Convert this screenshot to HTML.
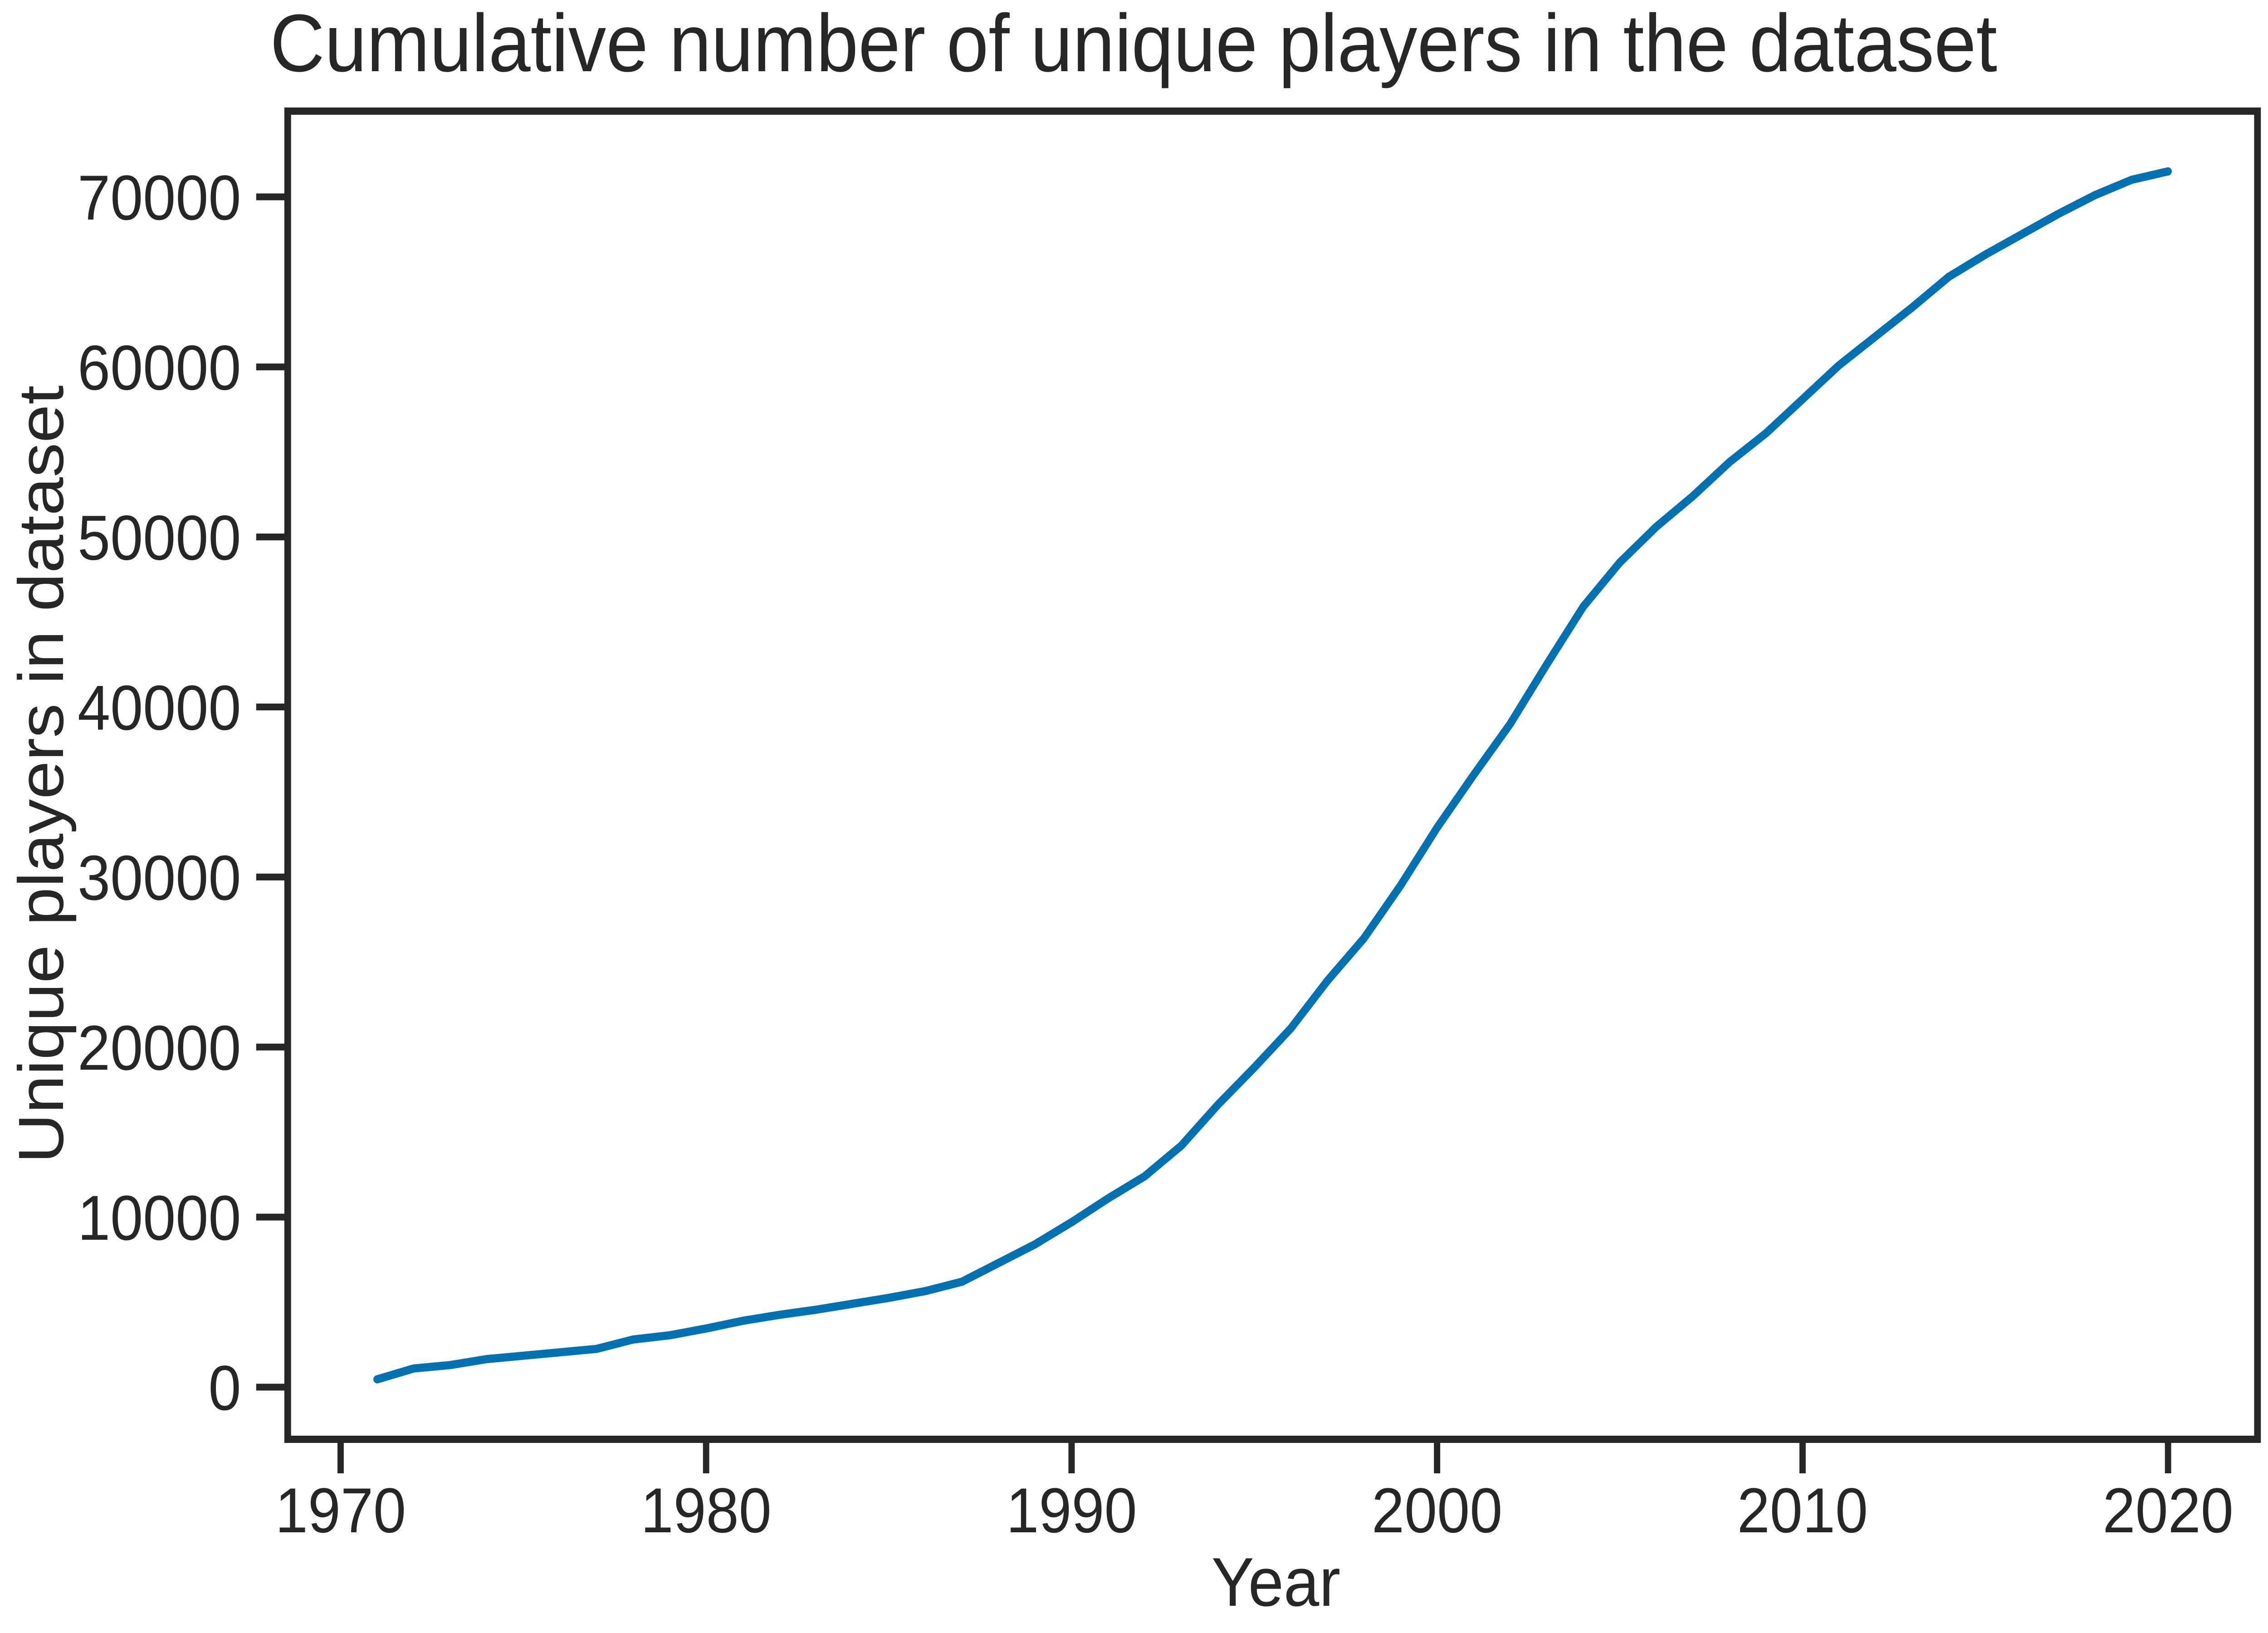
<!DOCTYPE html>
<html><head><meta charset="utf-8"><style>
html,body{margin:0;padding:0;background:#fff;overflow:hidden;}
svg{display:block;width:100vw;height:100vh;font-family:"Liberation Sans",Arial,sans-serif;}
</style></head><body>
<svg id="chart" viewBox="0 0 5400 3600" preserveAspectRatio="none" xmlns="http://www.w3.org/2000/svg">
<rect x="0" y="0" width="5400" height="3600" fill="#fff"/>
<text x="643" y="157" font-size="180" fill="#262626">Cumulative number of unique players in the dataset</text>
<g id="ticks"></g>
<path id="line" fill="none" stroke="#0072b2" stroke-width="18" stroke-linejoin="round" stroke-linecap="round"/>
<rect x="685" y="245" width="4690" height="2928" fill="none" stroke="#262626" stroke-width="16"/>
<text x="3038" y="3540" font-size="152" fill="#262626" text-anchor="middle">Year</text>
<text transform="translate(150,1707) rotate(-90)" font-size="152" fill="#262626" text-anchor="middle">Unique players in dataset</text>
</svg>
<script>
const years=[1971,1972,1973,1974,1975,1976,1977,1978,1979,1980,1981,1982,1983,1984,1985,1986,1987,1988,1989,1990,1991,1992,1993,1994,1995,1996,1997,1998,1999,2000,2001,2002,2003,2004,2005,2006,2007,2008,2009,2010,2011,2012,2013,2014,2015,2016,2017,2018,2019,2020];
const players=[460,1100,1300,1650,1850,2050,2250,2800,3050,3450,3900,4250,4550,4900,5250,5650,6200,7300,8400,9700,11100,12400,14200,16600,18800,21100,23900,26400,29500,32900,36000,39000,42500,45900,48500,50600,52400,54400,56100,58100,60100,61800,63500,65300,66600,67800,69000,70100,71000,71500];
const xTicks=[1970,1980,1990,2000,2010,2020];
const yTicks=[0,10000,20000,30000,40000,50000,60000,70000];
function xs(yr){return 811+(yr-1970)*87.02;}
function ys(v){return 3058-v*0.037486;}
const NS='http://www.w3.org/2000/svg';
const g=document.getElementById('ticks');
xTicks.forEach(t=>{
  const l=document.createElementNS(NS,'line');
  l.setAttribute('x1',xs(t));l.setAttribute('x2',xs(t));l.setAttribute('y1',3173);l.setAttribute('y2',3248);
  l.setAttribute('stroke','#262626');l.setAttribute('stroke-width',15);
  
  
  g.appendChild(l);
  const tx=document.createElementNS(NS,'text');
  tx.setAttribute('x',xs(t));tx.setAttribute('y',3378);tx.setAttribute('font-size',140);
  tx.setAttribute('text-anchor','middle');tx.setAttribute('fill','#262626');tx.textContent=t;
  
  
  g.appendChild(tx);
});
yTicks.forEach(t=>{
  const l=document.createElementNS(NS,'line');
  l.setAttribute('x1',610);l.setAttribute('x2',685);l.setAttribute('y1',ys(t));l.setAttribute('y2',ys(t));
  l.setAttribute('stroke','#262626');l.setAttribute('stroke-width',15);
  
  
  g.appendChild(l);
  const tx=document.createElementNS(NS,'text');
  tx.setAttribute('x',574);tx.setAttribute('y',ys(t)+50);tx.setAttribute('font-size',140);
  tx.setAttribute('text-anchor','end');tx.setAttribute('fill','#262626');tx.textContent=t;
  
  
  g.appendChild(tx);
});
document.getElementById('line').setAttribute('d',years.map((y,i)=>(i?'L':'M')+xs(y).toFixed(1)+' '+ys(players[i]).toFixed(1)).join(' '));
</script>
</body></html>
